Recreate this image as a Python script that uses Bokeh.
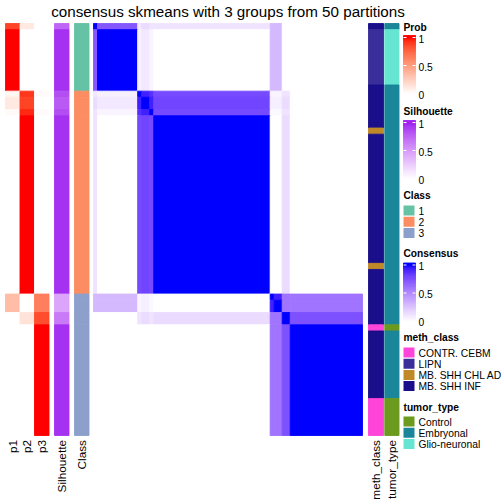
import numpy as np
from bokeh.plotting import figure
from bokeh.models import Range1d, ColumnDataSource, LinearColorMapper
from bokeh.transform import transform
from bokeh.core.properties import value
from bokeh.embed import file_html
from bokeh.resources import INLINE

# ---------------- data ----------------
TITLE = "consensus skmeans with 3 groups from 50 partitions"
group_names = ["A", "B", "C", "D", "E", "F", "G1", "G2", "H", "I"]
group_sizes = [1, 10, 1, 2, 1, 29, 1, 2, 2, 18]
group_class = ["1", "1", "2", "2", "2", "2", "3", "3", "3", "3"]
group_p1 = [0.88, 1.0, 0.05, 0.12, 0.03, 0.0, 0.35, 0.35, 0.0, 0.0]
group_p2 = [0.12, 0.0, 0.92, 0.88, 0.95, 1.0, 0.0, 0.0, 0.15, 0.0]
group_p3 = [0.0, 0.0, 0.03, 0.0, 0.02, 0.0, 0.65, 0.65, 0.85, 1.0]
group_sil = [0.75, 0.95, 0.85, 0.80, 0.85, 0.95, 0.45, 0.45, 0.65, 0.95]
# consensus between groups (symmetric)
group_consensus = [
    [1.00, 0.72, 0.10, 0.15, 0.12, 0.12, 0.30, 0.30, 0.00, 0.00],
    [0.72, 1.00, 0.06, 0.10, 0.05, 0.00, 0.30, 0.30, 0.00, 0.00],
    [0.10, 0.06, 1.00, 0.93, 0.88, 0.78, 0.05, 0.05, 0.12, 0.00],
    [0.15, 0.10, 0.93, 1.00, 0.93, 0.80, 0.07, 0.07, 0.15, 0.00],
    [0.12, 0.05, 0.88, 0.93, 1.00, 0.78, 0.03, 0.03, 0.12, 0.00],
    [0.12, 0.00, 0.78, 0.80, 0.78, 1.00, 0.00, 0.00, 0.15, 0.00],
    [0.30, 0.30, 0.05, 0.07, 0.03, 0.00, 1.00, 0.93, 0.60, 0.60],
    [0.30, 0.30, 0.05, 0.07, 0.03, 0.00, 0.93, 1.00, 0.60, 0.60],
    [0.00, 0.00, 0.12, 0.15, 0.12, 0.15, 0.60, 0.60, 1.00, 0.75],
    [0.00, 0.00, 0.00, 0.00, 0.00, 0.00, 0.60, 0.60, 0.75, 1.00],
]
meth_runs = [("MB. SHH INF", 1), ("LIPN", 9), ("MB. SHH INF", 7), ("MB. SHH CHL AD", 1),
             ("MB. SHH INF", 21), ("MB. SHH CHL AD", 1), ("MB. SHH INF", 9),
             ("CONTR. CEBM", 1), ("MB. SHH INF", 11), ("CONTR. CEBM", 6)]
tumor_runs = [("Embryonal", 1), ("Glio-neuronal", 9), ("Embryonal", 39), ("Control", 1),
              ("Embryonal", 11), ("Control", 6)]
class_levels = ["1", "2", "3"]
class_colors = ["#66C2A5", "#FC8D62", "#8DA0CB"]
meth_levels = ["CONTR. CEBM", "LIPN", "MB. SHH CHL AD", "MB. SHH INF"]
meth_colors = ["#FF44DA", "#3A2E9A", "#C08828", "#1A0E8A"]
tumor_levels = ["Control", "Embryonal", "Glio-neuronal"]
tumor_colors = ["#6B9A1F", "#1B8599", "#66E6D2"]
legend_ticks = [0, 0.5, 1]

# ---------------- colour helpers (LAB interpolation like colorRamp2) ----------------
def _lin(c):
    c = c / 255.0
    return c / 12.92 if c <= 0.04045 else ((c + 0.055) / 1.055) ** 2.4

def _delin(c):
    c = 12.92 * c if c <= 0.0031308 else 1.055 * c ** (1 / 2.4) - 0.055
    return int(round(min(max(c, 0), 1) * 255))

WN = (0.95047, 1.0, 1.08883)

def _f(t):
    d = 6 / 29
    return t ** (1 / 3) if t > d ** 3 else t / (3 * d * d) + 4 / 29

def _finv(t):
    d = 6 / 29
    return t ** 3 if t > d else 3 * d * d * (t - 4 / 29)

def hex2lab(h):
    r, g, b = [_lin(int(h[i:i + 2], 16)) for i in (1, 3, 5)]
    X = 0.4124 * r + 0.3576 * g + 0.1805 * b
    Y = 0.2126 * r + 0.7152 * g + 0.0722 * b
    Z = 0.0193 * r + 0.1192 * g + 0.9505 * b
    fx, fy, fz = _f(X / WN[0]), _f(Y / WN[1]), _f(Z / WN[2])
    return (116 * fy - 16, 500 * (fx - fy), 200 * (fy - fz))

def lab2hex(L, a, b):
    fy = (L + 16) / 116
    fx = fy + a / 500
    fz = fy - b / 200
    X, Y, Z = WN[0] * _finv(fx), WN[1] * _finv(fy), WN[2] * _finv(fz)
    r = 3.2406 * X - 1.5372 * Y - 0.4986 * Z
    g = -0.9689 * X + 1.8758 * Y + 0.0415 * Z
    bb = 0.0557 * X - 0.2040 * Y + 1.0570 * Z
    return "#%02X%02X%02X" % (_delin(r), _delin(g), _delin(bb))

def lab_palette(c0, c1, n=256):
    l0, l1 = hex2lab(c0), hex2lab(c1)
    return [lab2hex(*[l0[k] + (l1[k] - l0[k]) * t for k in range(3)]) for t in np.linspace(0, 1, n)]

prob_map = LinearColorMapper(palette=lab_palette("#FFFFFF", "#FF0000"), low=0, high=1)
sil_map = LinearColorMapper(palette=lab_palette("#FFFFFF", "#A020F0"), low=0, high=1)
cons_map = LinearColorMapper(palette=lab_palette("#FFFFFF", "#0000FF"), low=0, high=1)

# ---------------- layout (pixel units) ----------------
N = sum(group_sizes)
W = H = 504
def fs(v):
    return "%.1fpx" % v
FONT = "Liberation Sans"

HX0, HX1, HY0, HY1 = 93.0, 362.0, 23.0, 435.0
cw = (HX1 - HX0) / N
rh = (HY1 - HY0) / N
gb = np.concatenate([[0], np.cumsum(group_sizes)])  # group boundaries (sample index)
g_top = HY0 + gb[:-1] * rh
g_bot = HY0 + gb[1:] * rh
g_left = HX0 + gb[:-1] * cw
g_right = HX0 + gb[1:] * cw
LW = 0.9

p = figure(width=W, height=H, x_range=Range1d(0, W), y_range=Range1d(H, 0),
           output_backend="svg", toolbar_location=None, min_border=0)
p.xaxis.visible = False
p.yaxis.visible = False
p.grid.visible = False
p.outline_line_color = None
p.background_fill_color = "white"
p.border_fill_color = "white"

# heatmap (one block per pair of sample groups)
G = len(group_sizes)
gi, gj = np.meshgrid(np.arange(G), np.arange(G), indexing="ij")
hm = ColumnDataSource(dict(left=g_left[gj.ravel()], right=g_right[gj.ravel()],
                           top=g_top[gi.ravel()], bottom=g_bot[gi.ravel()],
                           v=np.array(group_consensus).ravel()))
p.quad(left="left", right="right", top="top", bottom="bottom", source=hm,
       fill_color=transform("v", cons_map), line_color=transform("v", cons_map), line_width=LW)

def value_column(x0, x1, vals, mapper):
    src = ColumnDataSource(dict(left=[x0] * G, right=[x1] * G, top=g_top, bottom=g_bot, v=vals))
    p.quad(left="left", right="right", top="top", bottom="bottom", source=src,
           fill_color=transform("v", mapper), line_color=transform("v", mapper), line_width=LW)

def cat_column(x0, x1, runs, levels, colors):
    cmap = dict(zip(levels, colors))
    starts = np.concatenate([[0], np.cumsum([k for _, k in runs])])
    src = ColumnDataSource(dict(left=[x0] * len(runs), right=[x1] * len(runs),
                                top=HY0 + starts[:-1] * rh, bottom=HY0 + starts[1:] * rh,
                                c=[cmap[v] for v, _ in runs]))
    p.quad(left="left", right="right", top="top", bottom="bottom", source=src,
           fill_color="c", line_color="c", line_width=LW)

value_column(5, 19.5, group_p1, prob_map)
value_column(19.5, 34, group_p2, prob_map)
value_column(34, 48.5, group_p3, prob_map)
value_column(54, 68.5, group_sil, sil_map)
cat_column(74, 88.5, list(zip(group_class, group_sizes)), class_levels, class_colors)
cat_column(368, 383, meth_runs, meth_levels, meth_colors)
cat_column(384.3, 398.5, tumor_runs, tumor_levels, tumor_colors)

# title, centred over the heatmap body
p.text(x=[(HX0 + HX1) / 2], y=[10.5], text=[TITLE], text_align="center", text_baseline="middle",
       text_font=value(FONT), text_font_size=fs(15.2), text_color="black")

# bottom rotated labels
lab_x = [12.3, 26.8, 41.3, 61.3, 81.3, 375.5, 391.3]
lab_t = ["p1", "p2", "p3", "Silhouette", "Class", "meth_class", "tumor_type"]
p.text(x=lab_x, y=[439.5] * len(lab_x), text=lab_t, angle=np.pi / 2, text_align="right",
       text_baseline="middle", text_font=value(FONT), text_font_size=fs(11.8), text_color="black")

# ---------------- legends ----------------
LX0, LX1, TX = 403.0, 415.0, 418.0

def legend_title(y, t):
    p.text(x=[LX0], y=[y], text=[t], text_align="left", text_baseline="middle",
           text_font=value(FONT), text_font_size=fs(10.2), text_font_style="bold", text_color="black")

def cont_legend(title_y, y1, mapper, title):
    legend_title(title_y, title)
    y0 = y1 + 56.0  # position of tick 0
    n = 60
    vs = np.linspace(0, 1, n + 1)
    ys = y0 - vs * (y0 - y1)
    src = ColumnDataSource(dict(left=[LX0] * n, right=[LX1] * n, top=ys[1:], bottom=ys[:-1],
                                v=(vs[1:] + vs[:-1]) / 2))
    p.quad(left="left", right="right", top="top", bottom="bottom", source=src,
           fill_color=transform("v", mapper), line_color=transform("v", mapper), line_width=LW)
    p.quad(left=[LX0], right=[LX1], top=[y1 - 2], bottom=[y1], fill_color=mapper.palette[-1],
           line_color=mapper.palette[-1], line_width=LW)
    ty = [y0 - t * (y0 - y1) for t in legend_ticks]
    for t, yy in zip(legend_ticks, ty):
        if t > 0:
            p.segment(x0=[LX0, LX1 - 3], y0=[yy, yy], x1=[LX0 + 3, LX1], y1=[yy, yy],
                      line_color="white", line_width=1)
    p.text(x=[TX] * 3, y=[yy + 1 for yy in ty], text=["0", "0.5", "1"], text_align="left",
           text_baseline="middle", text_font=value(FONT), text_font_size=fs(10.3), text_color="black")

def cat_legend(title_y, first_y, levels, colors, title, step=11.2):
    legend_title(title_y, title)
    ys = [first_y + k * step for k in range(len(levels))]
    p.quad(left=[LX0] * len(levels), right=[LX0 + 11] * len(levels),
           top=[y - 5 for y in ys], bottom=[y + 5 for y in ys], fill_color=colors, line_color=None)
    p.text(x=[TX] * len(levels), y=[y + 0.5 for y in ys], text=levels, text_align="left",
           text_baseline="middle", text_font=value(FONT), text_font_size=fs(10.3), text_color="black")

cont_legend(27, 37, prob_map, "Prob")
cont_legend(111, 122, sil_map, "Silhouette")
cat_legend(195, 210, class_levels, class_colors, "Class")
cont_legend(253, 264.5, cons_map, "Consensus")
cat_legend(337, 352, meth_levels, meth_colors, "meth_class")
cat_legend(407, 421, tumor_levels, tumor_colors, "tumor_type")

open("out.html", "w").write(file_html(p, INLINE))
